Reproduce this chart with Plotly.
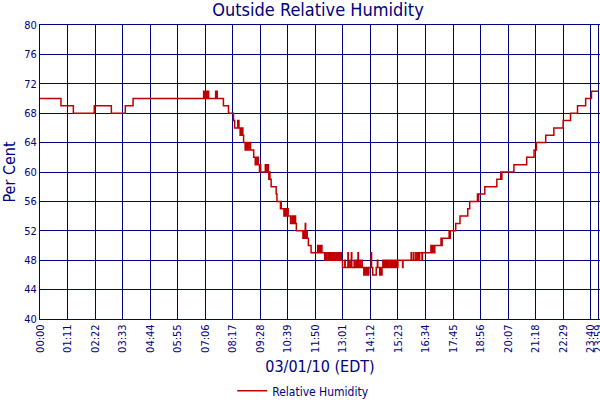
import plotly.graph_objects as go

# Outside relative humidity for 03/01/10, minute of day -> value (step changes)
minutes = [0, 54, 86, 140, 184, 220, 240,
           422, 423, 424, 426, 427, 429, 430, 432, 433, 435, 453, 454, 456, 457,
           473, 486, 499, 502, 510, 511, 512, 513, 516, 519, 520, 522, 523, 525,
           529, 530, 532, 533, 535, 536, 538, 542, 543, 551, 555, 559, 560, 562,
           563, 566, 568, 569, 581, 583, 584, 586, 587, 589, 590, 592, 593, 596,
           609, 611, 620, 621, 622, 629, 630, 632, 634, 636, 638, 640, 646, 650,
           651, 653, 655, 657, 659, 661, 678, 680, 681, 683, 684, 685, 686, 688,
           689, 692, 699, 716, 717, 719, 721, 723, 724, 726, 727, 734, 735, 738,
           739, 743, 745, 746, 749, 752, 754, 757, 760, 761, 765, 767, 770, 772,
           775, 777, 780, 786, 787, 794, 795, 799, 801, 803, 804, 810, 812, 816,
           817, 820, 821, 825, 826, 830, 831, 835, 836, 838, 840, 842, 844, 847,
           848, 854, 855, 858, 867, 870, 871, 876, 878, 880, 882, 884, 886, 888,
           890, 893, 896, 899, 903, 905, 908, 911, 913, 916, 919, 923, 935, 936,
           957, 958, 963, 964, 969, 970, 974, 977, 979, 985, 986, 1008, 1010,
           1012, 1016, 1018, 1034, 1035, 1037, 1055, 1056, 1058, 1072, 1083,
           1103, 1108, 1128, 1129, 1131, 1147, 1178, 1188, 1189, 1191, 1222,
           1255, 1274, 1280, 1304, 1325, 1349, 1368, 1386, 1407, 1422, 1439]
humidity = [70, 69, 68, 69, 68, 69, 70,
            71, 70, 71, 70, 71, 70, 71, 70, 71, 70, 71, 70, 71, 70,
            69, 68, 67, 66, 67, 66, 67, 66, 65, 66, 65, 66, 65, 64,
            63, 64, 63, 64, 63, 64, 63, 64, 63, 62, 61, 62, 61, 62,
            61, 60, 61, 60, 61, 60, 61, 60, 61, 60, 59, 60, 59, 58,
            57, 56, 55, 56, 55, 54, 55, 54, 55, 54, 55, 54, 53, 54,
            53, 54, 53, 54, 53, 52, 51, 52, 51, 52, 53, 52, 51, 52,
            51, 50, 49, 50, 49, 50, 49, 50, 49, 50, 49, 48, 49, 48,
            49, 48, 49, 48, 49, 48, 49, 48, 49, 48, 49, 48, 49, 48,
            49, 48, 47, 48, 47, 49, 47, 48, 47, 49, 47, 48, 47, 48,
            47, 49, 47, 48, 47, 48, 47, 46, 47, 46, 47, 46, 47, 46,
            47, 49, 47, 46, 47, 48, 47, 46, 47, 46, 47, 48, 47, 48,
            47, 48, 47, 48, 47, 48, 47, 48, 47, 48, 47, 48, 47, 48,
            49, 48, 49, 48, 49, 48, 49, 48, 49, 48, 49, 50, 49,
            50, 49, 50, 51, 50, 51, 52, 51, 52, 53, 54,
            55, 56, 57, 56, 57, 58, 59, 60, 59, 60, 61,
            62, 63, 64, 65, 66, 67, 68, 69, 70, 71, 71]

tick_labels = ["00:00", "01:11", "02:22", "03:33", "04:44", "05:55", "07:06",
               "08:17", "09:28", "10:39", "11:50", "13:01", "14:12", "15:23",
               "16:34", "17:45", "18:56", "20:07", "21:18", "22:29", "23:40",
               "23:59"]
tick_minutes = [int(s[:2]) * 60 + int(s[3:]) for s in tick_labels]

navy = "#000080"
font = "DejaVu Sans Condensed, DejaVu Sans, sans-serif"

fig = go.Figure()
fig.add_trace(go.Scatter(x=minutes, y=humidity, mode="lines", line_shape="hv",
                         name="Relative Humidity",
                         line=dict(color="#C00000", width=1.5)))

fig.update_xaxes(range=[0, 1444], tickvals=tick_minutes, ticktext=tick_labels,
                 tickangle=-90, tickfont=dict(size=11, color=navy, family=font),
                 ticklabeloverflow="allow",
                 showgrid=True, gridcolor=navy, gridwidth=1,
                 showline=True, linecolor=navy, linewidth=1, mirror=True,
                 zeroline=False, ticks="", automargin=False,
                 title=dict(text="03/01/10 (EDT)", font=dict(size=16, color=navy, family=font),
                            standoff=8))
fig.update_yaxes(range=[40, 80], dtick=4, tick0=40,
                 tickfont=dict(size=11, color=navy, family=font),
                 showgrid=True, gridcolor=navy, gridwidth=1,
                 showline=True, linecolor=navy, linewidth=1, mirror=True,
                 zeroline=False, ticks="", automargin=False,
                 title=dict(text="Per Cent", font=dict(size=16, color=navy, family=font),
                            standoff=4))

fig.update_layout(width=600, height=400,
                  plot_bgcolor="white", paper_bgcolor="white",
                  margin=dict(l=40, r=0, t=25, b=81, autoexpand=False),
                  title=dict(text="Outside Relative Humidity", x=0.53, xanchor="center",
                             y=0.975, yanchor="middle",
                             font=dict(size=18, color=navy, family=font)),
                  showlegend=True,
                  legend=dict(orientation="h", x=0.47, xanchor="center", y=-0.195, yanchor="top",
                              font=dict(size=12, color=navy, family=font),
                              itemwidth=30))

# page body has a default 8px margin; drop it so the figure sits at the corner
fig.write_html("out.html", config={"displayModeBar": False},
               post_script="document.body.style.margin='0';")
